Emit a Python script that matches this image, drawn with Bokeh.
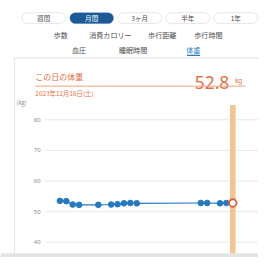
from bokeh.plotting import figure
from bokeh.models import Range1d, BoxAnnotation
from bokeh.core.properties import value
from bokeh.embed import file_html
from bokeh.resources import INLINE
import pandas as pd

# ---------------- data ----------------
dates = ["2023-11-19", "2023-11-20", "2023-11-21", "2023-11-22", "2023-11-25",
         "2023-11-27", "2023-11-28", "2023-11-29", "2023-11-30", "2023-12-01",
         "2023-12-11", "2023-12-12", "2023-12-14", "2023-12-15", "2023-12-16"]
weights = [53.5, 53.4, 52.3, 52.2, 52.2, 52.3, 52.4, 52.7, 52.8, 52.7,
           52.8, 52.8, 52.7, 52.8, 52.8]
selected_date = "2023-12-16"
selected_weight = 52.8
selected_label = "2023年12月16日(土)"
y_ticks = [40, 50, 60, 70, 80]
period_buttons = ["週間", "月間", "3ヶ月", "半年", "1年"]
active_period = "月間"
tabs_row1 = ["歩数", "消費カロリー", "歩行距離", "歩行時間"]
tabs_row2 = ["血圧", "睡眠時間", "体重"]
active_tab = "体重"

# ---------------- layout constants (reference-pixel space) ----------------
FONT = value("Noto Sans CJK JP")
ORANGE = "#e2703f"
BLUE = "#2479c1"
DARK_BLUE = "#1c5b97"
REF_W, REF_H = 274, 273
W, H = 258, 257
S = W / REF_W


def fs(px):
    return f"{px * S:.2f}px"


p = figure(width=W, height=H, x_range=Range1d(0, REF_W), y_range=Range1d(-REF_H, 0),
           x_axis_location=None, y_axis_location=None, output_backend="svg",
           toolbar_location=None, min_border=0)
p.grid.visible = False
p.outline_line_color = None

# chart scales anchored to reference pixel positions
sel = pd.Timestamp(selected_date)
dt = pd.to_datetime(dates)
SEL_PX, PX_PER_DAY = 246.7, 6.8
KG80_PX, KG40_PX = 126.7, 256.7
px_per_kg = (KG40_PX - KG80_PX) / 40.0
p.extra_x_ranges = {"date": Range1d(sel - pd.Timedelta(days=SEL_PX / PX_PER_DAY),
                                    sel + pd.Timedelta(days=(REF_W - SEL_PX) / PX_PER_DAY))}
p.extra_y_ranges = {"kg": Range1d(40 - (REF_H - KG40_PX) / px_per_kg,
                                  80 + KG80_PX / px_per_kg)}

# ---------------- header ----------------
btn_left0, btn_w, btn_gap = 22.7, 46.3, 4.7
BTN_TOP, BTN_BOT = 13.0, 24.5
btn_cx = []
for i, lab in enumerate(period_buttons):
    left = btn_left0 + i * (btn_w + btn_gap)
    act = lab == active_period
    p.add_layout(BoxAnnotation(left=left, right=left + btn_w, top=-BTN_TOP, bottom=-BTN_BOT,
                               border_radius=6,
                               fill_color=DARK_BLUE if act else "white", fill_alpha=1,
                               line_color=DARK_BLUE if act else "#b0b0b0", line_width=1,
                               level="underlay"))
    btn_cx.append(left + btn_w / 2)
p.text(x=btn_cx, y=[-(BTN_TOP + BTN_BOT) / 2] * len(btn_cx), text=period_buttons, text_font=FONT,
       text_font_size=fs(7), text_align="center", text_baseline="middle",
       text_color=["white" if t == active_period else "#4d4d4d" for t in period_buttons])

p.text(x=[64, 116.7, 171.7, 220.8], y=[-37] * 4, text=tabs_row1, text_font=FONT,
       text_font_size=fs(7.5), text_align="center", text_baseline="middle", text_color="#4d4d4d")
p.text(x=[83.3, 140.8, 204.7], y=[-53] * 3, text=tabs_row2, text_font=FONT,
       text_font_size=fs(7.5), text_align="center", text_baseline="middle",
       text_color=[BLUE if t == active_tab else "#4d4d4d" for t in tabs_row2])
p.segment(x0=[198], y0=[-58.3], x1=[212], y1=[-58.3], line_color=BLUE, line_width=1.2)

# card border + bottom band
p.segment(x0=[15], y0=[-61], x1=[REF_W], y1=[-61], line_color="#dddddd", line_width=1)
p.segment(x0=[15], y0=[-61], x1=[15], y1=[-268], line_color="#e6e6e6", line_width=1)
p.quad(left=[0], right=[REF_W], top=[-268.5], bottom=[-REF_H], fill_color="#e4e4e4",
       line_color=None)

p.text(x=[37], y=[-80.5], text=["この日の体重"], text_font=FONT, text_font_size=fs(8.5),
       text_align="left", text_baseline="middle", text_color=ORANGE)
p.text(x=[243], y=[-87], text=[f"{selected_weight:.1f}"], text_font=value("Noto Sans"),
       text_font_size=fs(18.5), text_align="right", text_baseline="alphabetic", text_color=ORANGE)
p.text(x=[249], y=[-85.5], text=["kg"], text_font=value("Noto Sans"), text_font_size=fs(6.8),
       text_align="left", text_baseline="alphabetic", text_color=ORANGE)
p.segment(x0=[37], y0=[-91], x1=[260], y1=[-91], line_color="#eaa384", line_width=1)
p.text(x=[37], y=[-99], text=[selected_label], text_font=FONT, text_font_size=fs(6.8),
       text_align="left", text_baseline="middle", text_color=ORANGE)
p.text(x=[17], y=[-108], text=["(kg)"], text_font=FONT, text_font_size=fs(6),
       text_align="left", text_baseline="middle", text_color="#8a8a8a")

# ---------------- chart ----------------
GRID_X0 = 47
p.segment(x0=[GRID_X0] * len(y_ticks), x1=[REF_W] * len(y_ticks), y0=y_ticks, y1=y_ticks,
          y_range_name="kg", line_color="#e8e8e8", line_width=1)
p.text(x=[42.5] * len(y_ticks), y=y_ticks, text=[str(t) for t in y_ticks], y_range_name="kg",
       text_font=value("Noto Sans"), text_font_size=fs(6.3), text_align="right",
       text_baseline="middle", text_color="#8a8a8a")

p.vbar(x=[sel], width=pd.Timedelta(days=6 / PX_PER_DAY).total_seconds() * 1000,
       top=[-111], bottom=[-268.5], x_range_name="date",
       fill_color="#f3c591", line_color=None)

p.line(dt, weights, x_range_name="date", y_range_name="kg", line_color=BLUE, line_width=1.2)
mask = [d != sel for d in dt]
p.scatter([d for d, m in zip(dt, mask) if m], [w for w, m in zip(weights, mask) if m],
          x_range_name="date", y_range_name="kg",
          size=6 * S, fill_color=BLUE, line_color=BLUE)
p.scatter([sel], [selected_weight], x_range_name="date", y_range_name="kg",
          size=8 * S, fill_color="white", line_color="#e0603a", line_width=1.8)

open("out.html", "w").write(file_html(p, INLINE))
